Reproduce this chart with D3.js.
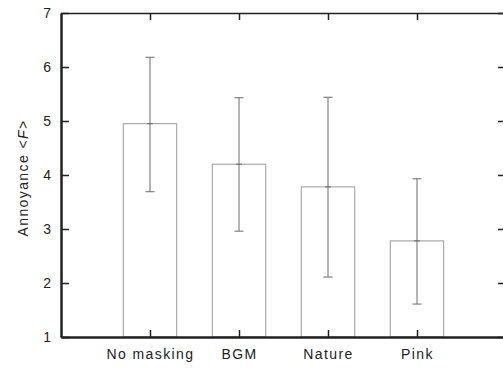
<!DOCTYPE html>
<html>
<head>
<meta charset="utf-8">
<script src="https://cdn.jsdelivr.net/npm/d3@7"></script>
<style>
  body { margin: 0; background: #fff; }
  text { font-family: "Liberation Sans", Arial, sans-serif; }
</style>
</head>
<body>
<svg id="chartSVG" width="503" height="368"></svg>
<script>
// values
var categories = ['No masking', 'BGM', 'Nature', 'Pink'];
var means = [4.95, 4.20, 3.78, 2.78];
var errLow = [3.69, 2.96, 2.11, 1.61];
var errHigh = [6.18, 5.43, 5.44, 3.93];
var yTicks = [1, 2, 3, 4, 5, 6, 7];

var svg = d3.select('#chartSVG');
var mLeft = 61, mRight = 506, mTop = 13, mBottom = 337;

// categories sit at 1..4 on a 0..5 axis
var x = d3.scaleLinear().domain([0, 5]).range([mLeft, mRight]);
var y = d3.scaleLinear().domain([1, 7]).range([mBottom, mTop]);
var barW = (x(1) - x(0)) * 0.6;

var data = categories.map(function(c, i) {
  return { name: c, pos: i + 1, mean: means[i], lo: errLow[i], hi: errHigh[i] };
});

// bars
svg.selectAll('.bar')
  .data(data)
  .enter()
  .append('rect')
  .attr('class', 'bar')
  .attr('x', function(d) { return x(d.pos) - barW / 2; })
  .attr('y', function(d) { return y(d.mean); })
  .attr('width', barW)
  .attr('height', function(d) { return y(1) - y(d.mean); })
  .attr('fill', 'none')
  .attr('stroke', '#9a9a9a')
  .attr('stroke-width', 1);

// error bars
var eg = svg.selectAll('.err')
  .data(data)
  .enter()
  .append('g')
  .attr('class', 'err')
  .attr('stroke', '#6a6a6a')
  .attr('stroke-width', 1);

eg.append('line')
  .attr('x1', function(d) { return x(d.pos); })
  .attr('x2', function(d) { return x(d.pos); })
  .attr('y1', function(d) { return y(d.lo); })
  .attr('y2', function(d) { return y(d.hi); });

[['hi', 4.5], ['lo', 4.5], ['mean', 3]].forEach(function(k) {
  eg.append('line')
    .attr('x1', function(d) { return x(d.pos) - k[1]; })
    .attr('x2', function(d) { return x(d.pos) + k[1]; })
    .attr('y1', function(d) { return y(d[k[0]]); })
    .attr('y2', function(d) { return y(d[k[0]]); });
});

// axes
var yAxisL = d3.axisLeft(y).tickValues(yTicks).tickSizeInner(-8).tickSizeOuter(0).tickPadding(10).tickFormat(d3.format('d'));
var yAxisR = d3.axisRight(y).tickValues(yTicks).tickSizeInner(-8).tickSizeOuter(0).tickFormat('');
var xAxisB = d3.axisBottom(x).tickValues([1, 2, 3, 4]).tickSizeInner(-7).tickSizeOuter(0).tickPadding(12)
  .tickFormat(function(d) { return categories[d - 1]; });
var xAxisT = d3.axisTop(x).tickValues([1, 2, 3, 4]).tickSizeInner(-7).tickSizeOuter(0).tickFormat('');

function style(g, w) {
  g.select('.domain').attr('stroke', '#222').attr('stroke-width', w);
  g.selectAll('.tick line').attr('stroke', '#222').attr('stroke-width', 1.5);
  g.selectAll('.tick text').attr('fill', '#222').attr('font-size', 14)
    .attr('font-family', '"Liberation Sans", Arial, sans-serif');
}

svg.append('g').attr('transform', 'translate(' + mLeft + ',0)').call(yAxisL).call(style, 2.5);
svg.append('g').attr('transform', 'translate(' + mRight + ',0)').call(yAxisR).call(style, 2);
svg.append('g').attr('transform', 'translate(0,' + mBottom + ')').call(xAxisB).call(style, 2.5)
  .selectAll('.tick text').attr('letter-spacing', 1.4);
svg.append('g').attr('transform', 'translate(0,' + mTop + ')').call(xAxisT).call(style, 1.5);

// y label
var lab = svg.append('text')
  .attr('transform', 'translate(28,178) rotate(-90)')
  .attr('text-anchor', 'middle')
  .attr('font-size', 14)
  .attr('letter-spacing', 1.4)
  .attr('fill', '#222');
lab.append('tspan').text('Annoyance <');
lab.append('tspan').attr('font-style', 'italic').text('F');
lab.append('tspan').text('>');
</script>
</body>
</html>
